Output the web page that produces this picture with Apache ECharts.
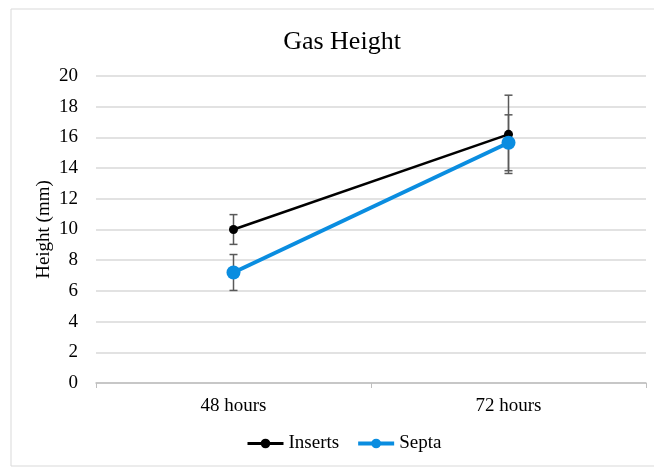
<!DOCTYPE html>
<html>
<head>
<meta charset="utf-8">
<script src="https://cdn.jsdelivr.net/npm/echarts@6/dist/echarts.min.js"></script>
<style>
  html, body { margin: 0; padding: 0; background: #fff; }
  #chart { width: 654px; height: 467px; }
</style>
</head>
<body>
<div id="chart"></div>
<script>
// Gas height measurements with standard-deviation error bars
const categories = ['48 hours', '72 hours'];
const insertsMean = [10.0, 16.2];
const insertsErr = [0.97, 2.55];
const septaMean = [7.2, 15.65];
const septaErr = [1.17, 1.82];
const yTicks = { min: 0, max: 20, interval: 2 };

const serif = '"Liberation Serif", "Times New Roman", serif';
const errColor = '#595959';

function errorBarSeries(means, errs, name) {
  const rows = means.map((m, i) => [i, m - errs[i], m + errs[i]]);
  return {
    type: 'custom',
    name: name,
    z: 1,
    silent: true,
    data: rows,
    renderItem: function (params, api) {
      const x = api.value(0);
      const lo = api.coord([x, api.value(1)]);
      const hi = api.coord([x, api.value(2)]);
      const half = 4;
      const style = { stroke: errColor, lineWidth: 1.5, fill: null };
      return {
        type: 'group',
        children: [
          { type: 'line', shape: { x1: lo[0], y1: lo[1], x2: hi[0], y2: hi[1] }, style: style },
          { type: 'line', shape: { x1: lo[0] - half, y1: lo[1], x2: lo[0] + half, y2: lo[1] }, style: style },
          { type: 'line', shape: { x1: hi[0] - half, y1: hi[1], x2: hi[0] + half, y2: hi[1] }, style: style }
        ]
      };
    }
  };
}

const chart = echarts.init(document.getElementById('chart'), null, { renderer: 'canvas' });

chart.setOption({
  animation: false,
  backgroundColor: '#ffffff',
  textStyle: { fontFamily: serif },
  graphic: [{
    type: 'rect',
    shape: { x: 11, y: 9, width: 660, height: 457 },
    style: { fill: null, stroke: '#d9d9d9', lineWidth: 1 },
    z: -1
  }],
  title: {
    text: 'Gas Height',
    left: 337,
    textAlign: 'center',
    top: 24,
    textStyle: { fontFamily: serif, fontSize: 26, fontWeight: 'normal', color: '#000' }
  },
  legend: {
    data: [
      { name: 'Inserts', lineStyle: { width: 3 } },
      { name: 'Septa', lineStyle: { width: 4 } }
    ],
    bottom: 9,
    left: 241,
    itemGap: 17,
    itemWidth: 36,
    itemHeight: 12,
    textStyle: { fontFamily: serif, fontSize: 19, color: '#000' }
  },
  grid: { left: 96, right: 8, top: 76, bottom: 84 },
  xAxis: {
    type: 'category',
    data: categories,
    boundaryGap: true,
    axisLine: { lineStyle: { color: '#bfbfbf', width: 1.5 } },
    axisTick: { show: true, length: 5, lineStyle: { color: '#bfbfbf' } },
    axisLabel: { fontFamily: serif, fontSize: 19, color: '#000', margin: 14 }
  },
  yAxis: {
    type: 'value',
    min: yTicks.min,
    max: yTicks.max,
    interval: yTicks.interval,
    name: 'Height (mm)',
    nameLocation: 'middle',
    nameGap: 42,
    nameRotate: 90,
    nameMoveOverlap: false,
    nameTextStyle: { fontFamily: serif, fontSize: 19, color: '#000' },
    axisLine: { show: false },
    axisTick: { show: false },
    axisLabel: { fontFamily: serif, fontSize: 19, color: '#000', margin: 18 },
    splitLine: { lineStyle: { color: '#d9d9d9', width: 1.5 } }
  },
  series: [
    errorBarSeries(insertsMean, insertsErr, 'InsertsErr'),
    errorBarSeries(septaMean, septaErr, 'SeptaErr'),
    {
      name: 'Inserts',
      type: 'line',
      z: 3,
      data: insertsMean,
      symbol: 'circle',
      symbolSize: 9,
      lineStyle: { color: '#000000', width: 2.5 },
      itemStyle: { color: '#000000' }
    },
    {
      name: 'Septa',
      type: 'line',
      z: 4,
      data: septaMean,
      symbol: 'circle',
      symbolSize: 14,
      lineStyle: { color: '#0a8de0', width: 4 },
      itemStyle: { color: '#0a8de0' }
    }
  ]
});
</script>
</body>
</html>
